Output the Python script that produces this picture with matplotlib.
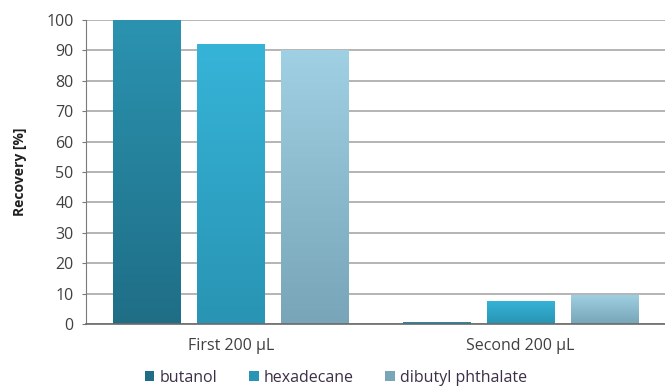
import numpy as np
import matplotlib.pyplot as plt
from matplotlib.patches import Patch
from matplotlib.colors import LinearSegmentedColormap

categories = ['First 200 \u00b5L', 'Second 200 \u00b5L']
series = ['butanol', 'hexadecane', 'dibutyl phthalate']
butanol = [100, 0.5]
hexadecane = [92, 7.7]
dibutyl = [90, 9.7]
values = [butanol, hexadecane, dibutyl]

# (top colour, bottom colour) for each series
grads = [('#2b93b0', '#1f6e86'),
         ('#36b4d8', '#2994b3'),
         ('#a0d0e3', '#78a5b8')]

plt.rcParams['font.family'] = ['Open Sans', 'DejaVu Sans']
fig = plt.figure(figsize=(6.65, 3.86), dpi=100)
ax = fig.add_axes([0.1293, 0.1606, 0.8707, 0.7876])

x = np.arange(len(categories))
w = 0.232
step = 0.29
for i, (name, vals) in enumerate(zip(series, values)):
    pos = x + (i - 1) * step
    bars = ax.bar(pos, vals, width=w, color=grads[i][1], edgecolor='none',
                  zorder=2, label=name)
    cmap = LinearSegmentedColormap.from_list(name, [grads[i][1], grads[i][0]])
    for b in bars:
        bx, by = b.get_x(), b.get_y()
        bw, bh = b.get_width(), b.get_height()
        grad = np.linspace(0, 1, 256).reshape(-1, 1)
        im = ax.imshow(grad, cmap=cmap, origin='lower', aspect='auto',
                       extent=[bx, bx + bw, by, by + bh], zorder=2.5)
        im.set_clip_path(b)

ax.set_xlim(-0.5, 1.5)
ax.set_ylim(0, 100)
ax.set_yticks(range(0, 101, 10))
ax.set_xticks(x)
ax.set_xticklabels(categories)
ax.yaxis.grid(True, color='#b4b4b4', linewidth=1.4, zorder=0)
ax.set_axisbelow(True)
for s in ['top', 'right']:
    ax.spines[s].set_visible(False)
ax.spines['left'].set_color('#7a7a7a')
ax.spines['bottom'].set_color('#6a6a6a')
ax.spines['bottom'].set_linewidth(1.2)
ax.tick_params(axis='y', length=3, color='#7a7a7a', labelsize=11.5,
               labelcolor='#404040', pad=6)
ax.tick_params(axis='x', length=0, labelsize=11.5, labelcolor='#404040', pad=10)
ax.set_ylabel('Recovery [%]', fontsize=10, fontweight='bold', color='#202020',
              labelpad=14)

handles = [Patch(facecolor=g[1], edgecolor='none') for g in grads]
fig.legend(handles, series, loc='center', bbox_to_anchor=(0.505, 0.022),
           ncol=3, frameon=False, fontsize=11.5, handlelength=0.6,
           handleheight=0.6, handletextpad=0.3, columnspacing=2.0,
           labelcolor='#3c3048')

fig.savefig('out.png', dpi=100)
